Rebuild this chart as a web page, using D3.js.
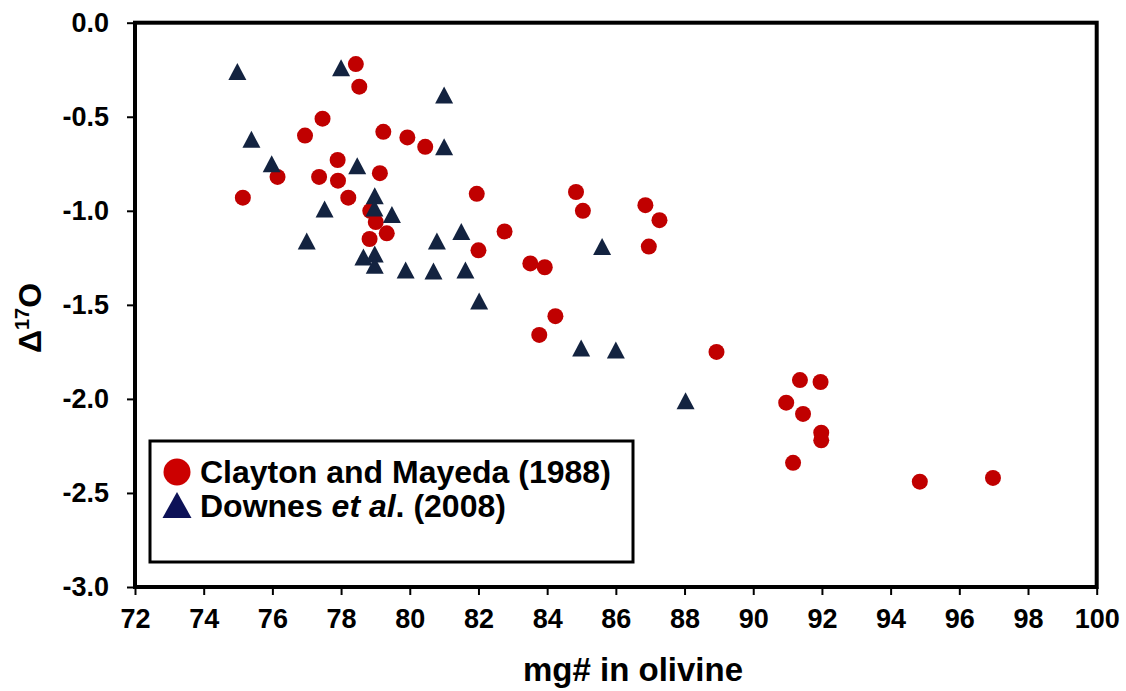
<!DOCTYPE html>
<html>
<head>
<meta charset="utf-8">
<script src="https://cdn.jsdelivr.net/npm/d3@7"></script>
<style>
  body { margin: 0; background: #fff; }
  svg text { font-family: "Liberation Sans", Arial, Helvetica, sans-serif; font-weight: bold; fill: #000; }
</style>
</head>
<body>
<div id="chart"></div>
<script>
// data
var seriesNames = ["Clayton and Mayeda (1988)", "Downes et al. (2008)"];

var claytonMg = [75.14, 76.15, 76.95, 77.46, 77.36, 77.90, 77.91, 78.21, 78.43, 78.53,
  79.13, 79.23, 79.93, 80.45, 78.85, 79.01, 79.33, 78.83, 81.95, 82.00,
  82.76, 83.51, 83.93, 84.24, 83.77, 84.84, 85.04, 86.86, 87.27, 86.96,
  88.93, 90.96, 91.36, 91.96, 91.45, 91.98, 91.98, 91.16, 94.85, 96.98];
var claytonD17O = [-0.93, -0.82, -0.60, -0.51, -0.82, -0.73, -0.84, -0.93, -0.22, -0.34,
  -0.80, -0.58, -0.61, -0.66, -1.00, -1.06, -1.12, -1.15, -0.91, -1.21,
  -1.11, -1.28, -1.30, -1.56, -1.66, -0.90, -1.00, -0.97, -1.05, -1.19,
  -1.75, -2.02, -1.90, -1.91, -2.08, -2.18, -2.22, -2.34, -2.44, -2.42];

var downesMg = [74.98, 78.00, 81.00, 81.00, 75.39, 75.98, 78.47, 77.52, 78.98, 78.97,
  79.48, 77.00, 78.65, 78.98, 78.98, 79.88, 80.69, 81.62, 80.79, 81.50,
  82.02, 85.60, 84.99, 86.00, 88.03];
var downesD17O = [-0.26, -0.24, -0.385, -0.66, -0.62, -0.75, -0.76, -0.99, -0.92, -0.985,
  -1.02, -1.16, -1.245, -1.23, -1.29, -1.315, -1.32, -1.315, -1.16, -1.11,
  -1.48, -1.19, -1.73, -1.74, -2.01];

var xTicks = [72, 74, 76, 78, 80, 82, 84, 86, 88, 90, 92, 94, 96, 98, 100];
var yTicks = [0, -0.5, -1.0, -1.5, -2.0, -2.5, -3.0];

var width = 1126, height = 691;
var margin = { top: 22.7, right: 29.3, bottom: 104, left: 135 };

var svg = d3.select("#chart")
  .append("svg")
  .attr("width", width)
  .attr("height", height);

var xScale = d3.scaleLinear()
  .domain([72, 100])
  .range([margin.left, width - margin.right]);

var yScale = d3.scaleLinear()
  .domain([-3, 0])
  .range([height - margin.bottom, margin.top]);

// X axis
var xAxis = d3.axisBottom(xScale)
  .tickValues(xTicks)
  .tickSize(8)
  .tickSizeOuter(0)
  .tickPadding(14);

svg.append("g")
  .attr("class", "x-axis")
  .attr("transform", `translate(0, ${yScale(-3)})`)
  .call(xAxis)
  .call(g => g.select(".domain").remove())
  .call(g => g.selectAll("line").attr("stroke", "#000").attr("stroke-width", 2))
  .selectAll("text")
  .attr("font-size", "27px")
  .style("fill", "#000");

// Y axis
var yAxis = d3.axisLeft(yScale)
  .tickValues(yTicks)
  .tickSize(8)
  .tickSizeOuter(0)
  .tickPadding(18)
  .tickFormat(d => d.toFixed(1));

svg.append("g")
  .attr("class", "y-axis")
  .attr("transform", `translate(${xScale(72)}, 0)`)
  .call(yAxis)
  .call(g => g.select(".domain").remove())
  .call(g => g.selectAll("line").attr("stroke", "#000").attr("stroke-width", 2))
  .selectAll("text")
  .attr("font-size", "27px")
  .style("fill", "#000");

// plot frame
svg.append("rect")
  .attr("x", xScale(72))
  .attr("y", yScale(0))
  .attr("width", xScale(100) - xScale(72))
  .attr("height", yScale(-3) - yScale(0))
  .attr("fill", "none")
  .attr("stroke", "#000")
  .attr("stroke-width", 4);

// Clayton and Mayeda circles
svg.selectAll(".clayton")
  .data(claytonMg)
  .enter()
  .append("circle")
  .attr("class", "clayton")
  .attr("cx", d => xScale(d))
  .attr("cy", (d, i) => yScale(claytonD17O[i]))
  .attr("r", 8)
  .attr("fill", "#c00000");

// Downes triangles
var tri = (w, h) => `M0,${-h / 2}L${w / 2},${h / 2}L${-w / 2},${h / 2}Z`;

svg.selectAll(".downes")
  .data(downesMg)
  .enter()
  .append("path")
  .attr("class", "downes")
  .attr("d", tri(18, 17))
  .attr("transform", (d, i) => `translate(${xScale(d)},${yScale(downesD17O[i])})`)
  .attr("fill", "#132340");

// axis titles
svg.append("text")
  .attr("x", 633)
  .attr("y", 681)
  .attr("text-anchor", "middle")
  .attr("font-size", "33px")
  .text("mg# in olivine");

var yTitle = svg.append("text")
  .attr("transform", "translate(41, 318) rotate(-90)")
  .attr("text-anchor", "middle")
  .attr("font-size", "32px");
yTitle.append("tspan").text("\u0394");
yTitle.append("tspan").attr("font-size", "20px").attr("dy", "-12").text("17");
yTitle.append("tspan").attr("dy", "12").text("O");

// legend
var legend = svg.append("g").attr("class", "legend");

legend.append("rect")
  .attr("x", 150)
  .attr("y", 441)
  .attr("width", 483)
  .attr("height", 121)
  .attr("fill", "#fff")
  .attr("stroke", "#000")
  .attr("stroke-width", 3);

legend.append("circle")
  .attr("cx", 177)
  .attr("cy", 472)
  .attr("r", 13.5)
  .attr("fill", "#cc0000");

legend.append("path")
  .attr("d", tri(29, 26))
  .attr("transform", "translate(177, 505)")
  .attr("fill", "#0d1257");

legend.append("text")
  .attr("x", 200)
  .attr("y", 483)
  .attr("font-size", "32px")
  .text(seriesNames[0]);

var l2 = legend.append("text")
  .attr("x", 200)
  .attr("y", 517)
  .attr("font-size", "32px");
l2.append("tspan").text("Downes ");
l2.append("tspan").attr("font-style", "italic").text("et al");
l2.append("tspan").text(". (2008)");
</script>
</body>
</html>
